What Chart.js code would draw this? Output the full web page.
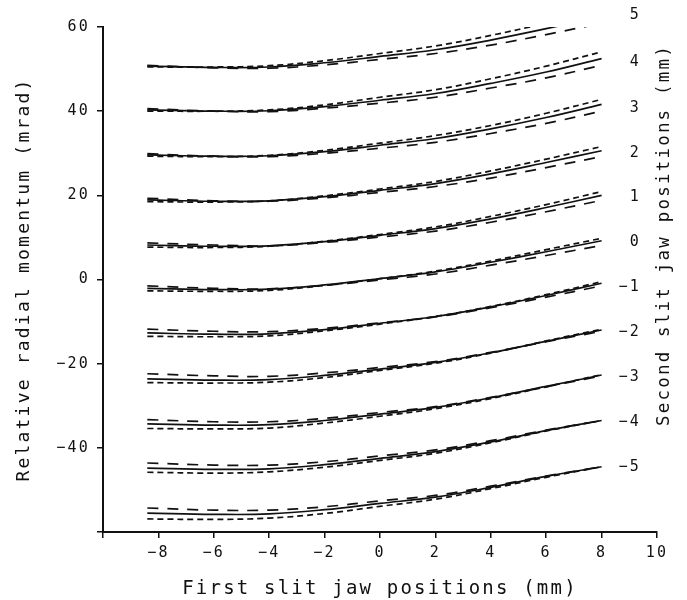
<!DOCTYPE html>
<html>
<head>
<meta charset="utf-8">
<script src="https://cdn.jsdelivr.net/npm/chart.js@4.4.0/dist/chart.umd.min.js"></script>
<style>
  html, body { margin: 0; padding: 0; background: #fff; }
  #wrap { width: 687px; height: 600px; }
</style>
</head>
<body>
<div id="wrap"><canvas id="chart"></canvas></div>
<script>
const jawX = [-8.4, -6, -4, -2, 0, 2, 4, 6, 8];

// Second slit jaw setting of each group, top to bottom
const secondJaw = [5, 4, 3, 2, 1, 0, -1, -2, -3, -4, -5];

// Relative radial momentum (mrad), one row per group
const solidCurves = [
    [50.7, 50.4, 50.5, 51.5, 53.0, 54.6, 56.9, 59.6, 62.5],
    [40.3, 40.0, 40.1, 41.1, 42.6, 44.2, 46.6, 49.3, 52.5],
    [29.6, 29.3, 29.4, 30.4, 31.9, 33.5, 35.8, 38.5, 41.6],
    [18.9, 18.6, 18.7, 19.7, 21.2, 22.8, 25.1, 27.8, 30.6],
    [8.2, 7.9, 8.0, 9.0, 10.5, 12.1, 14.4, 17.1, 20.0],
    [-2.1, -2.4, -2.3, -1.3, 0.2, 1.8, 4.1, 6.6, 9.2],
    [-12.7, -13.0, -12.9, -11.9, -10.4, -8.8, -6.5, -3.8, -0.9],
    [-23.6, -23.9, -23.8, -22.8, -21.3, -19.7, -17.4, -14.7, -12.0],
    [-34.3, -34.6, -34.5, -33.5, -32.0, -30.4, -28.1, -25.4, -22.7],
    [-44.8, -45.1, -45.0, -44.0, -42.5, -40.9, -38.6, -35.9, -33.5],
    [-55.5, -55.8, -55.7, -54.7, -53.2, -51.7, -49.4, -46.8, -44.5]
];

const longDashCurves = [
    [50.9, 50.3, 50.2, 51.0, 52.3, 53.7, 55.7, 58.2, 60.9],
    [40.6, 40.0, 39.9, 40.7, 41.9, 43.3, 45.5, 47.9, 50.9],
    [29.9, 29.3, 29.2, 30.0, 31.2, 32.6, 34.7, 37.1, 40.0],
    [19.3, 18.7, 18.6, 19.4, 20.7, 22.1, 24.1, 26.6, 29.2],
    [8.7, 8.2, 8.0, 8.8, 10.1, 11.5, 13.6, 16.1, 18.8],
    [-1.5, -2.1, -2.2, -1.4, -0.1, 1.3, 3.4, 5.7, 8.1],
    [-11.8, -12.3, -12.4, -11.6, -10.3, -8.9, -6.7, -4.2, -1.5],
    [-22.4, -22.9, -23.0, -22.2, -20.9, -19.5, -17.3, -14.8, -12.3],
    [-33.3, -33.8, -33.8, -33.0, -31.6, -30.2, -28.0, -25.5, -22.9],
    [-43.6, -44.1, -44.1, -43.3, -41.9, -40.5, -38.3, -35.8, -33.5],
    [-54.3, -54.8, -54.8, -54.0, -52.6, -51.3, -49.1, -46.7, -44.5]
];

const shortDashCurves = [
    [50.5, 50.5, 50.8, 52.0, 53.7, 55.5, 58.0, 60.9, 64.0],
    [40.0, 40.0, 40.3, 41.5, 43.3, 45.1, 47.7, 50.7, 54.1],
    [29.3, 29.2, 29.5, 30.7, 32.4, 34.2, 36.6, 39.5, 42.8],
    [18.5, 18.4, 18.7, 19.9, 21.5, 23.3, 25.8, 28.6, 31.6],
    [7.7, 7.6, 7.9, 9.1, 10.7, 12.5, 15.0, 17.8, 20.9],
    [-2.7, -2.8, -2.6, -1.4, 0.2, 2.0, 4.4, 7.1, 9.8],
    [-13.5, -13.6, -13.4, -12.2, -10.6, -8.8, -6.4, -3.6, -0.5],
    [-24.5, -24.6, -24.4, -23.3, -21.6, -19.9, -17.5, -14.6, -11.8],
    [-35.4, -35.5, -35.3, -34.1, -32.5, -30.7, -28.3, -25.5, -22.6],
    [-45.8, -46.0, -45.7, -44.6, -43.0, -41.3, -38.8, -36.0, -33.5],
    [-56.9, -57.0, -56.7, -55.6, -53.9, -52.2, -49.7, -47.0, -44.5]
];

// Group labels on the right hand side (data coordinates)
const labelX = 9.35;
const labelY = [62.8, 51.6, 40.7, 30.0, 19.6, 8.9, -1.8, -12.5, -23.2, -33.8, -44.5];

const INK = '#111';
const FONT = '"DejaVu Sans Mono", "Liberation Mono", monospace';
const SPACING = '2.2px';

function minus(v) {
    return String(v).replace('-', '\u2212');
}

function makeSet(values, dash) {
    return {
        data: jawX.map((x, i) => ({ x: x, y: values[i] })),
        borderColor: INK,
        borderWidth: 1.7,
        borderDash: dash,
        pointRadius: 0,
        fill: false,
        tension: 0.4
    };
}

const datasets = [];
secondJaw.forEach((jaw, g) => {
    datasets.push(makeSet(solidCurves[g], []));
    datasets.push(makeSet(longDashCurves[g], [11, 9]));
    datasets.push(makeSet(shortDashCurves[g], [6, 4]));
});

// plotter style lettering + the labels on the right
const plotterText = {
    id: 'plotterText',
    beforeDraw(chart) {
        chart.ctx.letterSpacing = SPACING;
    },
    afterDraw(chart) {
        const { ctx, chartArea } = chart;
        const xs = chart.scales.x;
        const ys = chart.scales.y;
        ctx.save();
        ctx.letterSpacing = SPACING;
        ctx.fillStyle = INK;
        ctx.font = '15px ' + FONT;
        ctx.textAlign = 'right';
        ctx.textBaseline = 'middle';
        secondJaw.forEach((jaw, i) => {
            ctx.fillText(minus(jaw), xs.getPixelForValue(labelX) + 2, ys.getPixelForValue(labelY[i]));
        });
        ctx.translate(chartArea.right + 7, chartArea.top + 208);
        ctx.rotate(-Math.PI / 2);
        ctx.textAlign = 'center';
        ctx.font = '17.5px ' + FONT;
        ctx.fillText('Second slit jaw positions (mm)', 0, 0);
        ctx.restore();
    }
};

new Chart(document.getElementById('chart'), {
    type: 'line',
    data: { datasets: datasets },
    plugins: [plotterText],
    options: {
        responsive: true,
        maintainAspectRatio: false,
        animation: false,
        layout: { padding: { top: 27, right: 30, left: 0, bottom: 0 } },
        plugins: {
            legend: { display: false },
            tooltip: { enabled: false }
        },
        scales: {
            x: {
                type: 'linear',
                min: -10,
                max: 10,
                afterFit(scale) { scale.height = 68; },
                grid: { drawOnChartArea: false, drawTicks: true, tickLength: 6, color: INK, lineWidth: 1.5 },
                border: { color: INK, width: 2 },
                ticks: {
                    stepSize: 2,
                    color: INK,
                    padding: 6,
                    maxRotation: 0,
                    font: { family: FONT, size: 15 },
                    callback: (v) => (v === -10 ? '' : minus(v))
                },
                title: {
                    display: true,
                    text: 'First slit jaw positions (mm)',
                    color: INK,
                    font: { family: FONT, size: 19 },
                    padding: { top: 0, bottom: 0 }
                }
            },
            y: {
                min: -60,
                max: 60,
                afterFit(scale) { scale.width = 103; },
                grid: { drawOnChartArea: false, drawTicks: true, tickLength: 6, color: INK, lineWidth: 1.5 },
                border: { color: INK, width: 2 },
                ticks: {
                    stepSize: 20,
                    color: INK,
                    padding: 7,
                    font: { family: FONT, size: 15 },
                    callback: (v) => (v === -60 ? '' : minus(v))
                },
                title: {
                    display: true,
                    text: 'Relative radial momentum (mrad)',
                    color: INK,
                    font: { family: FONT, size: 18 },
                    padding: { top: 14, bottom: 0 }
                }
            }
        }
    }
});
</script>
</body>
</html>
